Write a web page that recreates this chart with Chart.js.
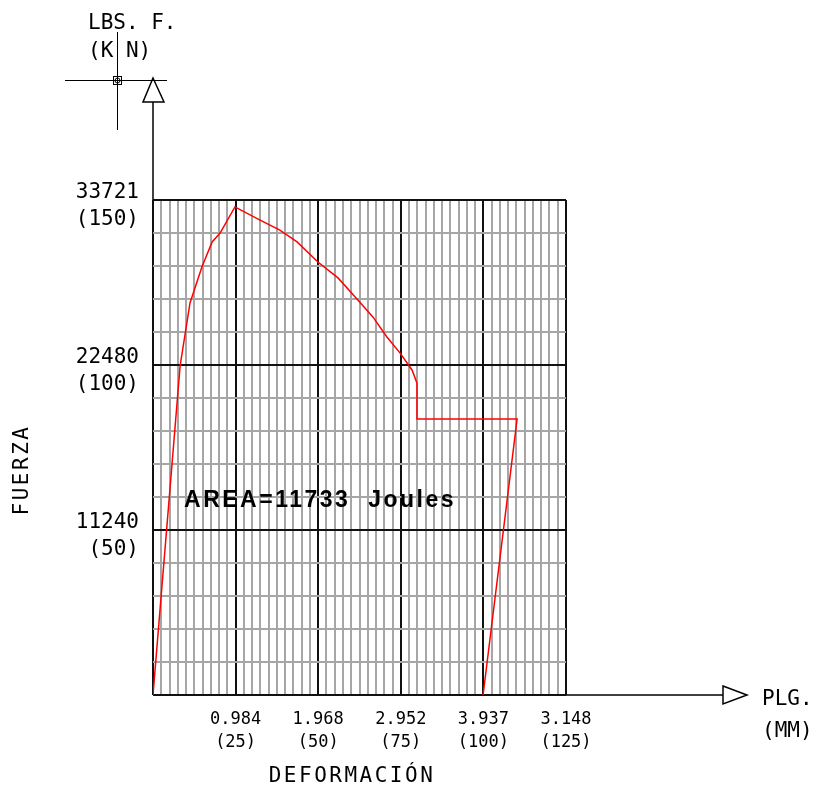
<!DOCTYPE html>
<html>
<head>
<meta charset="utf-8">
<script src="https://cdn.jsdelivr.net/npm/chart.js@4"></script>
<style>
  html, body { margin: 0; padding: 0; background: #fff; }
  #wrap { width: 816px; height: 791px; position: relative; }
</style>
</head>
<body>
<div id="wrap"><canvas id="ensayo"></canvas></div>
<script>
// Curva fuerza - deformacion (mm, kN)
const deformMM = [0, 8.2, 11.2, 14.8, 17.9, 20.3, 24.8, 32.4, 38.4, 43.6, 49.9, 56.0, 62.0, 66.6, 70.8, 74.8, 78.4, 79.9, 79.9, 110.2, 99.9];
const fuerzaKN = [0, 99.7, 118.8, 129.7, 137.3, 140.0, 147.9, 143.9, 140.9, 137.3, 131.2, 126.4, 119.7, 114.5, 108.5, 103.6, 98.5, 94.5, 83.6, 83.6, 0];

// Etiquetas de los ejes
const xMajor = [25, 50, 75, 100, 125];
const xPlg = ['0.984', '1.968', '2.952', '3.937', '3.148'];
const yMajor = [50, 100, 150];
const yLbs = ['11240', '22480', '33721'];

const areaTexto = 'AREA=11733  Joules';
const areaPos = [9.4, 59];

const mono = "'DejaVu Sans Mono', monospace";

function findMajor(list, v) {
    return list.findIndex(m => Math.abs(m - v) < 1e-6);
}

// Dibujo de flechas, cruz y textos fuera del area
const extras = {
    id: 'extras',
    afterDatasetsDraw(chart) {
        const ctx = chart.ctx;
        const a = chart.chartArea;
        const xs = chart.scales.x, ys = chart.scales.y;
        ctx.save();
        ctx.strokeStyle = '#000';
        ctx.lineWidth = 1.5;

        // eje Y extendido y flecha
        ctx.beginPath();
        ctx.moveTo(a.left, a.top);
        ctx.lineTo(a.left, 102);
        ctx.stroke();
        ctx.beginPath();
        ctx.moveTo(a.left, 78);
        ctx.lineTo(a.left - 10, 102);
        ctx.lineTo(a.left + 11, 102);
        ctx.closePath();
        ctx.stroke();

        // eje X extendido y flecha
        ctx.beginPath();
        ctx.moveTo(a.right, a.bottom);
        ctx.lineTo(723, a.bottom);
        ctx.stroke();
        ctx.beginPath();
        ctx.moveTo(723, a.bottom - 9);
        ctx.lineTo(747, a.bottom);
        ctx.lineTo(723, a.bottom + 9);
        ctx.closePath();
        ctx.stroke();

        // cruz del cursor
        ctx.lineWidth = 1;
        ctx.beginPath();
        ctx.moveTo(65, 80.5); ctx.lineTo(167, 80.5);
        ctx.moveTo(117.5, 32); ctx.lineTo(117.5, 130);
        ctx.stroke();
        ctx.strokeRect(113.5, 76.5, 8, 8);
        ctx.beginPath();
        ctx.arc(117.5, 80.5, 2.5, 0, Math.PI * 2);
        ctx.stroke();

        // textos
        ctx.fillStyle = '#000';
        ctx.font = '21px ' + mono;
        ctx.textBaseline = 'alphabetic';
        ctx.textAlign = 'left';
        ctx.fillText('LBS. F.', 88, 29);
        ctx.fillText('(K N)', 88, 57);
        ctx.fillText('PLG.', 762, 705);
        ctx.fillText('(MM)', 762, 737);

        ctx.letterSpacing = '2.5px';
        ctx.textAlign = 'center';
        ctx.textBaseline = 'middle';
        ctx.fillText('DEFORMACIÓN', 352, 777);
        ctx.save();
        ctx.translate(23, 470);
        ctx.rotate(-Math.PI / 2);
        ctx.fillText('FUERZA', 0, 0);
        ctx.restore();

        // area
        ctx.letterSpacing = '2.5px';
        ctx.font = "bold 23px 'Liberation Sans', Arial, sans-serif";
        ctx.textAlign = 'left';
        ctx.fillText(areaTexto, xs.getPixelForValue(areaPos[0]), ys.getPixelForValue(areaPos[1]));
        ctx.restore();
    }
};

const ctx = document.getElementById('ensayo').getContext('2d');
const ensayoChart = new Chart(ctx, {
    type: 'line',
    data: {
        datasets: [{
            data: deformMM.map((x, i) => ({ x: x, y: fuerzaKN[i] })),
            borderColor: '#ff0000',
            borderWidth: 1.5,
            pointRadius: 0,
            tension: 0,
            fill: false
        }]
    },
    options: {
        responsive: true,
        maintainAspectRatio: false,
        animation: false,
        layout: { padding: { top: 200, right: 250, left: 0, bottom: 0 } },
        plugins: {
            legend: { display: false },
            tooltip: { enabled: false }
        },
        scales: {
            x: {
                type: 'linear',
                min: 0,
                max: 125,
                afterFit(scale) { scale.height = 96; },
                border: { display: false },
                grid: {
                    drawTicks: false,
                    lineWidth: 2,
                    color: c => findMajor([0].concat(xMajor), c.tick.value) >= 0 ? '#111' : '#a6a6a6'
                },
                ticks: {
                    stepSize: 2.5,
                    autoSkip: false,
                    maxRotation: 0,
                    maxTicksLimit: 100,
                    padding: 14,
                    color: '#000',
                    font: { family: mono, size: 17, lineHeight: 1.3 },
                    callback(v) {
                        const i = findMajor(xMajor, v);
                        return i < 0 ? '' : [xPlg[i], '(' + xMajor[i] + ')'];
                    }
                }
            },
            y: {
                min: 0,
                max: 150,
                afterFit(scale) { scale.width = 153; },
                border: { display: false },
                grid: {
                    drawTicks: false,
                    lineWidth: 2,
                    color: c => findMajor([0].concat(yMajor), c.tick.value) >= 0 ? '#111' : '#a6a6a6'
                },
                ticks: {
                    stepSize: 10,
                    autoSkip: false,
                    maxTicksLimit: 100,
                    padding: 14,
                    labelOffset: 6,
                    color: '#000',
                    font: { family: mono, size: 21, lineHeight: 1.3 },
                    callback(v) {
                        const i = findMajor(yMajor, v);
                        return i < 0 ? '' : [yLbs[i], '(' + yMajor[i] + ')'];
                    }
                }
            }
        }
    },
    plugins: [extras]
});
</script>
</body>
</html>
